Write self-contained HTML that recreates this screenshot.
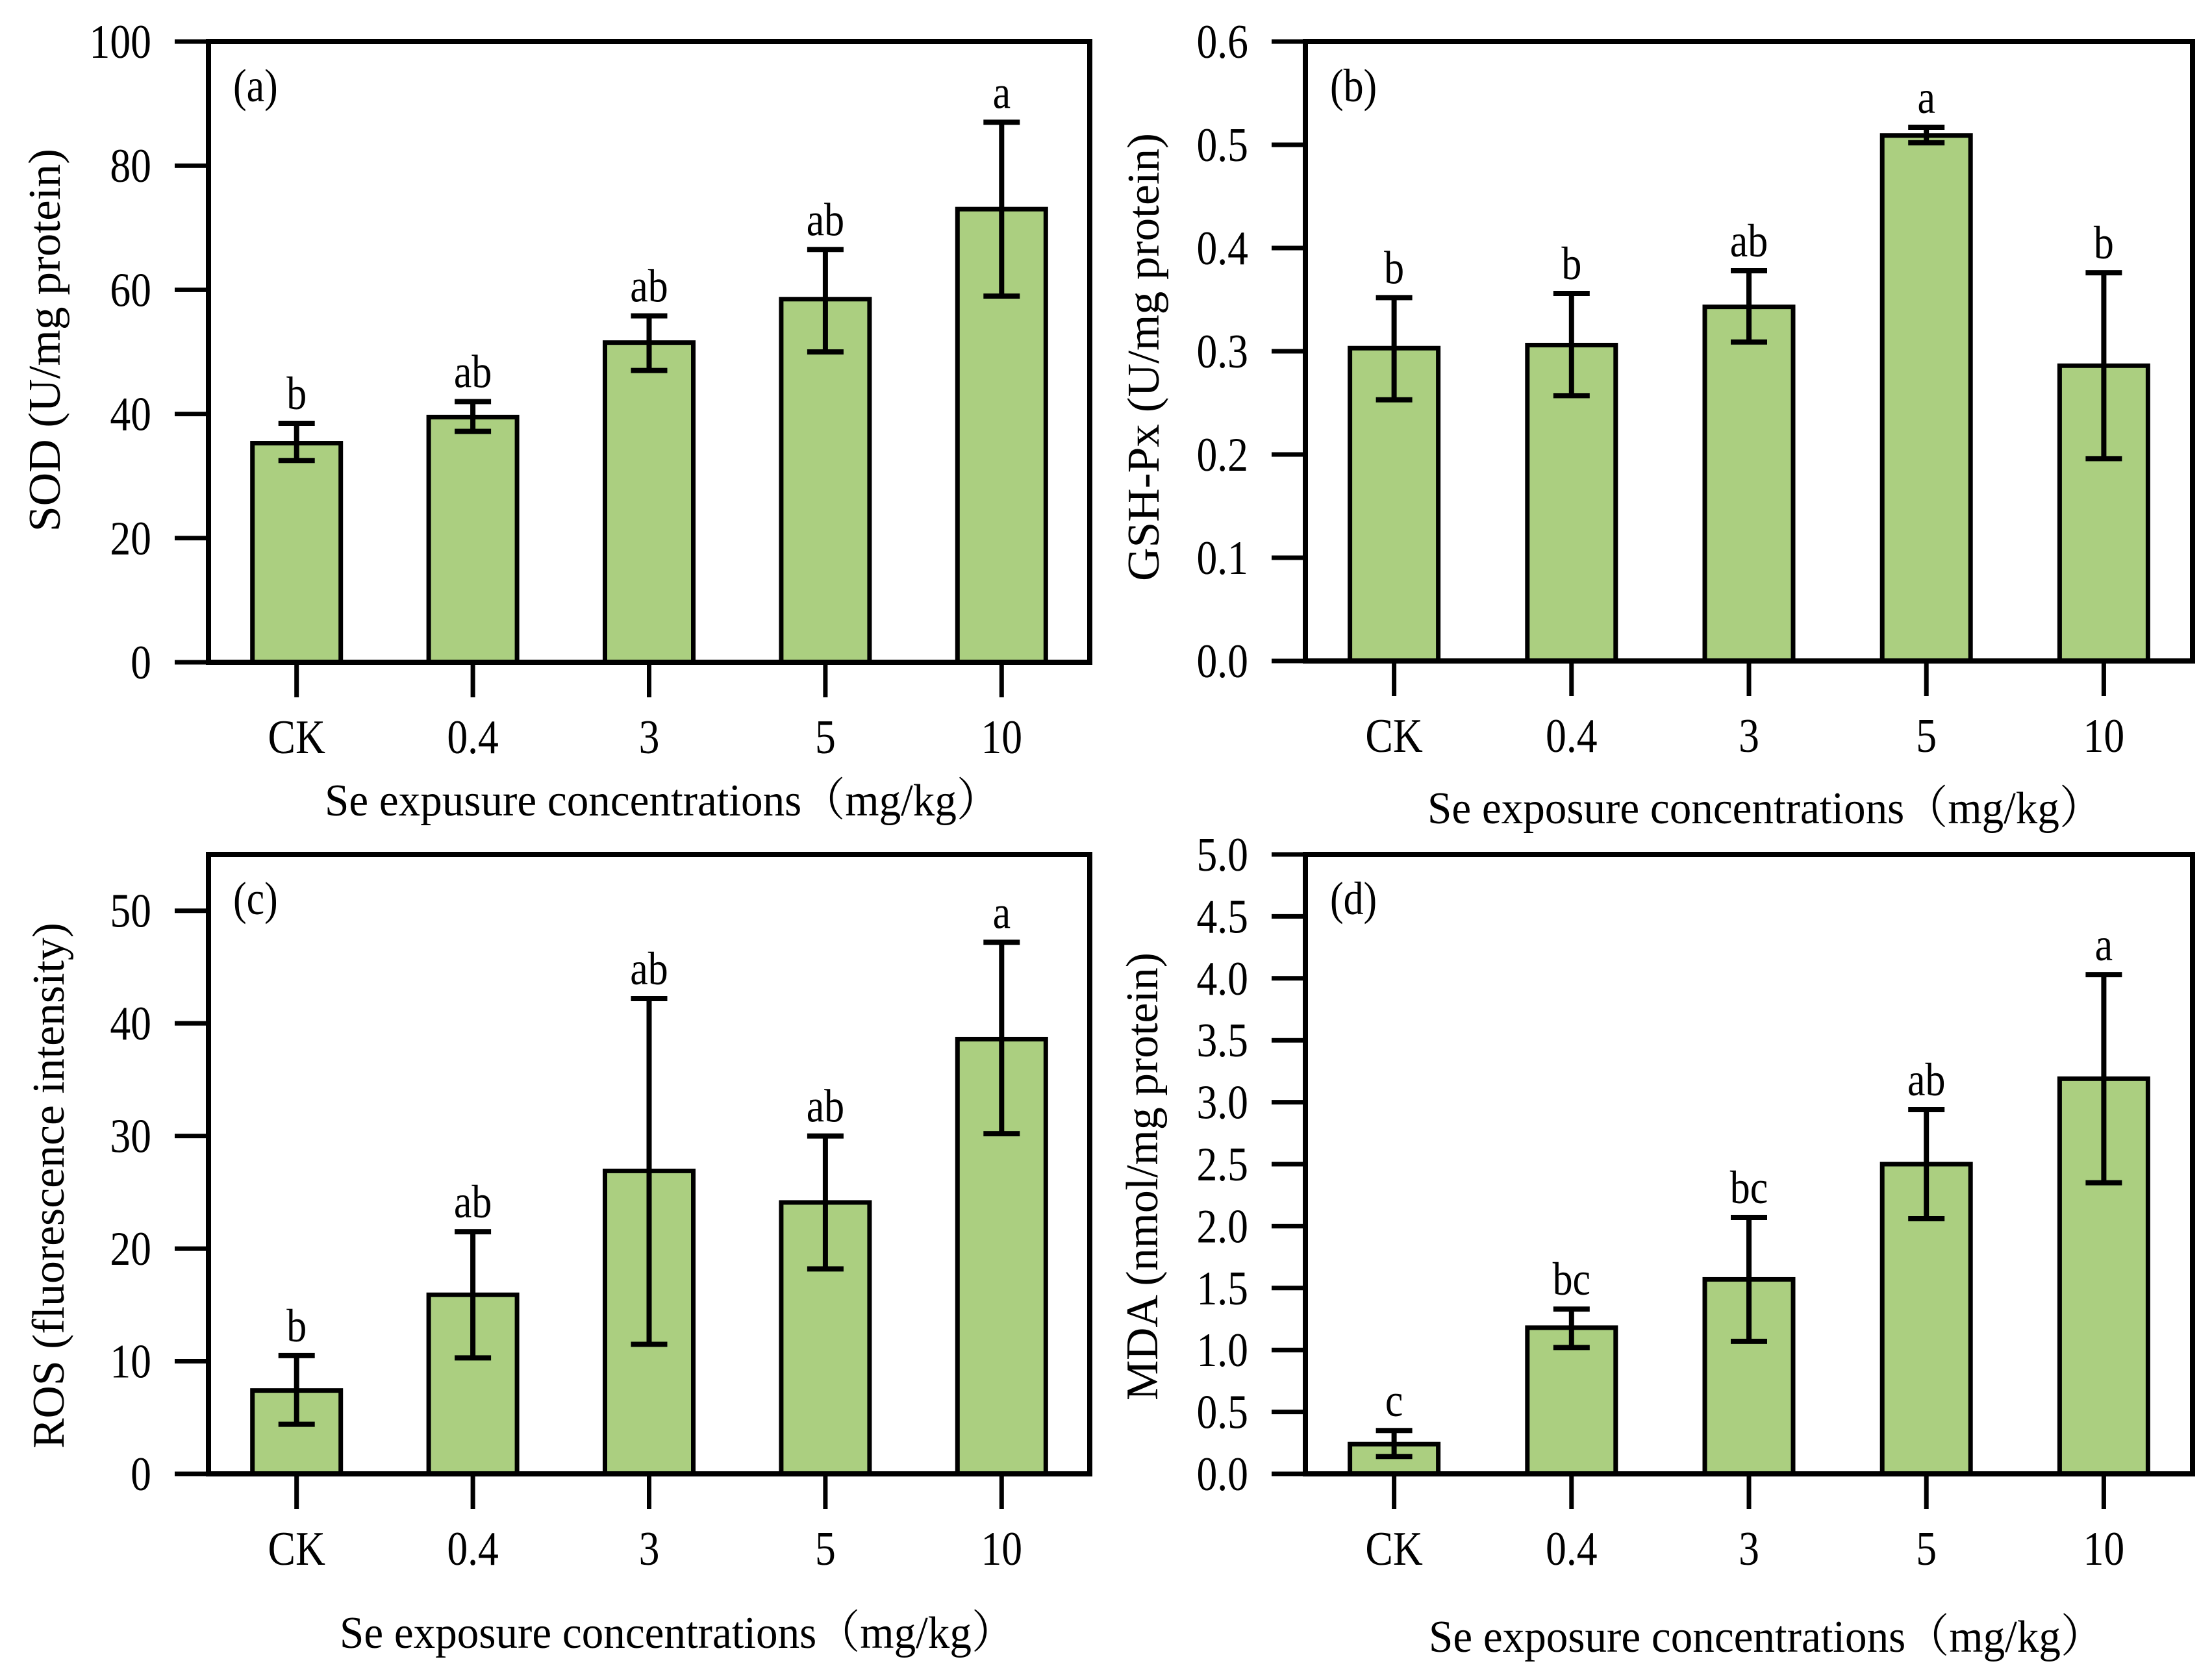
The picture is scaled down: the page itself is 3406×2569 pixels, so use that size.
<!DOCTYPE html>
<html><head><meta charset="utf-8"><style>
html,body{margin:0;padding:0;background:#fff;}
svg{display:block;}
text{font-family:"Liberation Serif","Noto Serif CJK SC",serif;fill:#000;}
</style></head><body>
<svg id="fig" width="3406" height="2569" viewBox="0 0 3406 2569" xmlns="http://www.w3.org/2000/svg"></svg>
<script>
const categories = ["CK","0.4","3","5","10"];
const sodMean = [35.3, 39.5, 51.5, 58.5, 73.0];
const sodLow = [32.5, 37.2, 47.0, 50.0, 59.0];
const sodHigh = [38.5, 42.0, 55.8, 66.5, 87.0];
const sodLetters = ["b","ab","ab","ab","a"];
const sodTicks = ["0","20","40","60","80","100"];
const gshMean = [0.303, 0.306, 0.343, 0.509, 0.286];
const gshLow = [0.253, 0.257, 0.309, 0.502, 0.196];
const gshHigh = [0.352, 0.356, 0.378, 0.517, 0.376];
const gshLetters = ["b","b","ab","a","b"];
const gshTicks = ["0.0","0.1","0.2","0.3","0.4","0.5","0.6"];
const rosMean = [7.4, 15.9, 26.9, 24.1, 38.6];
const rosLow = [4.4, 10.3, 11.5, 18.2, 30.2];
const rosHigh = [10.5, 21.5, 42.2, 30.0, 47.2];
const rosLetters = ["b","ab","ab","ab","a"];
const rosTicks = ["0","10","20","30","40","50"];
const mdaMean = [0.24, 1.18, 1.57, 2.50, 3.19];
const mdaLow = [0.14, 1.02, 1.07, 2.06, 2.35];
const mdaHigh = [0.35, 1.33, 2.07, 2.94, 4.03];
const mdaLetters = ["c","bc","bc","ab","a"];
const mdaTicks = ["0.0","0.5","1.0","1.5","2.0","2.5","3.0","3.5","4.0","4.5","5.0"];

const NS = "http://www.w3.org/2000/svg";
const svg = document.getElementById('fig');
function mk(tag, attrs, parent){
  const e = document.createElementNS(NS, tag);
  for (const k in attrs) e.setAttribute(k, attrs[k]);
  (parent||svg).appendChild(e);
  return e;
}
function ctext(parent, x, y, size, anchor, str){
  // condensed tall text
  const t = mk('text', {x:0, y:0, 'font-size':size, 'text-anchor':anchor, transform:`translate(${x},${y}) scale(0.86,1)`}, parent);
  t.textContent = str;
  return t;
}
function panel(o){
  const g = mk('g', {});
  
  
  const L=o.left,R=o.right,T=o.top,B=o.bottom;
  const y = v => B - (v - 0) / o.ymax * (B - T);
  const step = (R - L) / 5;
  const x = i => L + step * (i + 0.5);
  const bw = 136, cap = 56;
  for (let i=0;i<categories.length;i++){
    const r = mk('rect', {x:x(i)-bw/2, y:y(o.mean[i]), width:bw, height:B-y(o.mean[i]), fill:'#abcf80', stroke:'#000', 'stroke-width':7}, g);
    
    
    const eb = mk('path', {d:`M${x(i)},${y(o.low[i])}V${y(o.high[i])}M${x(i)-cap/2},${y(o.low[i])}H${x(i)+cap/2}M${x(i)-cap/2},${y(o.high[i])}H${x(i)+cap/2}`, stroke:'#000', 'stroke-width':8, fill:'none'}, g);
    
    
    const t = ctext(g, x(i), y(o.high[i])-22, 72, 'middle', o.letters[i]);
    
    
    const tk = mk('line', {x1:x(i), x2:x(i), y1:B, y2:B+54, stroke:'#000', 'stroke-width':7}, g);
    
    
    const tl = ctext(g, x(i), B+140, 74, 'middle', categories[i]);
    
    
  }
  const fr = mk('rect', {x:L, y:T, width:R-L, height:B-T, fill:'none', stroke:'#000', 'stroke-width':8}, g);
  
  
  const n = o.ticks.length;
  for (let k=0;k<n;k++){
    const v = o.ymaxTick * k/(n-1);
    const ty = y(v);
    const ln = mk('line', {x1:L-52, x2:L, y1:ty, y2:ty, stroke:'#000', 'stroke-width':7}, g);
    
    
    const tt = ctext(g, L-88, ty+25, 74, 'end', o.ticks[k]);
    
    
  }
  const pl = ctext(g, L+38, T+92, 72, 'start', o.label);
  
  
  const xt = mk('text', {x:o.xtX, y:o.xtY, 'font-size':70, 'text-anchor':'middle', textLength:1040, lengthAdjust:'spacingAndGlyphs'}, g);
  xt.textContent = o.xtitle;
  
  
  const yt = mk('text', {x:0, y:0, 'font-size':70, 'text-anchor':'middle', transform:`translate(${o.ytX},${o.ytY}) rotate(-90)`, textLength:o.ytLen, lengthAdjust:'spacingAndGlyphs'}, g);
  yt.textContent = o.ytitle;
  
  
}
panel({name:'panel-a-sod', left:321, right:1678, top:64, bottom:1020, ymax:100, ymaxTick:100, ticks:sodTicks,
  mean:sodMean, low:sodLow, high:sodHigh, letters:sodLetters, label:'(a)',
  xtitle:'Se expusure concentrations（mg/kg）', xtX:1020, xtY:1256,
  ytitle:'SOD (U/mg protein)', ytX:92, ytY:524, ytLen:590});
panel({name:'panel-b-gsh-px', left:2010, right:3376, top:64, bottom:1018, ymax:0.6, ymaxTick:0.6, ticks:gshTicks,
  mean:gshMean, low:gshLow, high:gshHigh, letters:gshLetters, label:'(b)',
  xtitle:'Se exposure concentrations（mg/kg）', xtX:2718, xtY:1268,
  ytitle:'GSH-Px (U/mg protein)', ytX:1784, ytY:550, ytLen:690});
panel({name:'panel-c-ros', left:321, right:1678, top:1316, bottom:2270, ymax:55, ymaxTick:50, ticks:rosTicks,
  mean:rosMean, low:rosLow, high:rosHigh, letters:rosLetters, label:'(c)',
  xtitle:'Se exposure concentrations（mg/kg）', xtX:1043, xtY:2538,
  ytitle:'ROS (fluorescence intensity)', ytX:98, ytY:1826, ytLen:810});
panel({name:'panel-d-mda', left:2010, right:3376, top:1316, bottom:2270, ymax:5, ymaxTick:5, ticks:mdaTicks,
  mean:mdaMean, low:mdaLow, high:mdaHigh, letters:mdaLetters, label:'(d)',
  xtitle:'Se exposure concentrations（mg/kg）', xtX:2720, xtY:2544,
  ytitle:'MDA (nmol/mg protein)', ytX:1782, ytY:1812, ytLen:690});
</script>
</body></html>
